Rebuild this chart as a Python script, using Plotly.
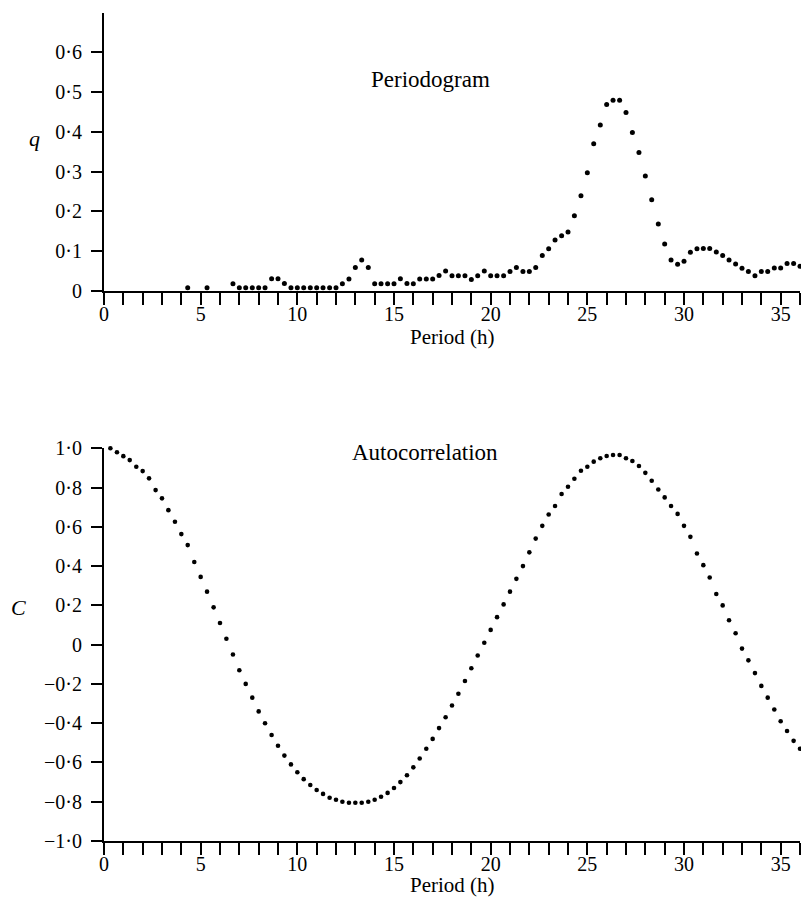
import plotly.graph_objects as go

# ---------------- data ----------------
# Periodogram: periods sampled every 20 min (1/3 h) from 4.33 h to 36 h
period_top = [round(k / 3, 2) for k in range(13, 109)]
q_values = [
    0.008, None, None, 0.008, None, None, None, 0.018, 0.008, 0.008,   # 4.33 - 7.33
    0.008, 0.008, 0.008, 0.031, 0.031, 0.019, 0.008, 0.008, 0.008, 0.008,  # 7.67 - 10.67
    0.008, 0.008, 0.008, 0.008, 0.018, 0.030, 0.059, 0.078, 0.059, 0.018,  # 11.0 - 14.0
    0.018, 0.018, 0.018, 0.031, 0.019, 0.018, 0.030, 0.030, 0.030, 0.039,  # 14.33 - 17.33
    0.050, 0.038, 0.038, 0.038, 0.029, 0.038, 0.050, 0.038, 0.038, 0.038,  # 17.67 - 20.67
    0.049, 0.059, 0.049, 0.049, 0.059, 0.089, 0.106, 0.128, 0.139, 0.148,  # 21.0 - 24.0
    0.189, 0.239, 0.297, 0.370, 0.417, 0.468, 0.479, 0.479, 0.448, 0.398,  # 24.33 - 27.33
    0.348, 0.289, 0.229, 0.168, 0.118, 0.078, 0.067, 0.075, 0.097, 0.106,  # 27.67 - 30.67
    0.107, 0.107, 0.098, 0.089, 0.078, 0.068, 0.057, 0.049, 0.038, 0.049,  # 31.0 - 34.0
    0.049, 0.058, 0.058, 0.069, 0.069, 0.062,                              # 34.33 - 36.0
]

# Autocorrelation: lags every 20 min (1/3 h) from 0.33 h to 36 h
period_bottom = [round(k / 3, 2) for k in range(1, 109)]
c_values = [
    1.00, 0.98, 0.96, 0.94, 0.906, 0.884, 0.847, 0.787, 0.745, 0.685,      # 0.33 - 3.33
    0.626, 0.563, 0.507, 0.421, 0.345, 0.27, 0.19, 0.11, 0.03, -0.05,      # 3.67 - 6.67
    -0.13, -0.20, -0.27, -0.34, -0.40, -0.46, -0.515, -0.565, -0.61, -0.65,  # 7.0 - 10.0
    -0.685, -0.715, -0.74, -0.76, -0.78, -0.79, -0.80, -0.805, -0.805, -0.805,  # 10.33 - 13.33
    -0.80, -0.79, -0.775, -0.755, -0.73, -0.70, -0.665, -0.625, -0.58, -0.53,  # 13.67 - 16.67
    -0.48, -0.425, -0.37, -0.31, -0.25, -0.185, -0.12, -0.055, 0.01, 0.075,  # 17.0 - 20.0
    0.14, 0.205, 0.27, 0.335, 0.40, 0.47, 0.54, 0.605, 0.663, 0.706,        # 20.33 - 23.33
    0.767, 0.804, 0.845, 0.886, 0.906, 0.932, 0.949, 0.961, 0.966, 0.966,  # 23.67 - 26.67
    0.949, 0.935, 0.91, 0.875, 0.835, 0.79, 0.75, 0.706, 0.666, 0.605,     # 27.0 - 30.0
    0.549, 0.464, 0.405, 0.342, 0.258, 0.20, 0.124, 0.058, -0.02, -0.08,   # 30.33 - 33.33
    -0.145, -0.21, -0.27, -0.33, -0.39, -0.44, -0.49, -0.53,               # 33.67 - 36.0
]

x_tick_vals = list(range(0, 37))
x_tick_text = [str(v) if v % 5 == 0 else "" for v in x_tick_vals]

q_tick_vals = [0, 0.1, 0.2, 0.3, 0.4, 0.5, 0.6]
q_tick_text = ["0", "0·1", "0·2", "0·3", "0·4", "0·5", "0·6"]

c_tick_vals = [1.0, 0.8, 0.6, 0.4, 0.2, 0, -0.2, -0.4, -0.6, -0.8, -1.0]
c_tick_text = ["1·0", "0·8", "0·6", "0·4", "0·2", "0", "−0·2", "−0·4", "−0·6", "−0·8", "−1·0"]

# ---------------- figure ----------------
FONT = "Liberation Serif, Times New Roman, serif"
W, H = 801, 913
ML, MR, MT, MB = 104, 1, 13, 72

fig = go.Figure()
fig.add_trace(go.Scatter(
    x=period_top, y=q_values, mode="markers", xaxis="x", yaxis="y",
    marker=dict(color="black", size=5), cliponaxis=False, showlegend=False,
))
fig.add_trace(go.Scatter(
    x=period_bottom, y=c_values, mode="markers", xaxis="x2", yaxis="y2",
    marker=dict(color="black", size=4.6), cliponaxis=False, showlegend=False,
))

plot_h = H - MT - MB
top_dom0 = (H - MB - 291) / plot_h
bot_dom1 = (H - MB - 448.3) / plot_h


def paper_y(py):
    return (H - MB - py) / plot_h


def paper_x(px):
    return (px - ML) / (W - ML - MR)


axis_common = dict(
    showgrid=False, zeroline=False, showline=True, linecolor="black", linewidth=2,
    ticks="outside", tickcolor="black", tickwidth=2,
    tickfont=dict(family=FONT, size=20, color="black"),
)

fig.update_layout(
    width=W, height=H,
    margin=dict(l=ML, r=MR, t=MT, b=MB),
    paper_bgcolor="white", plot_bgcolor="white",
    font=dict(family=FONT, color="black"),
    xaxis=dict(axis_common, range=[0, 36], tickvals=x_tick_vals, ticktext=x_tick_text,
               ticklen=12, ticklabelstandoff=-8, anchor="y", domain=[0, 1]),
    yaxis=dict(axis_common, range=[0, 0.698], tickvals=q_tick_vals, ticktext=q_tick_text,
               ticklen=11, ticklabelstandoff=5, anchor="x", domain=[top_dom0, 1]),
    xaxis2=dict(axis_common, range=[0, 36], tickvals=x_tick_vals, ticktext=x_tick_text,
                ticklen=12, ticklabelstandoff=-8, anchor="y2", domain=[0, 1]),
    yaxis2=dict(axis_common, range=[-1.0, 1.0], tickvals=c_tick_vals, ticktext=c_tick_text,
                ticklen=11, ticklabelstandoff=5, anchor="x2", domain=[0, bot_dom1]),
)

title_font = dict(family=FONT, size=23, color="black")
label_font = dict(family=FONT, size=21, color="black")
fig.add_annotation(x=16.9, y=0.53, xref="x", yref="y", text="Periodogram",
                   showarrow=False, font=title_font)
fig.add_annotation(x=16.6, y=0.977, xref="x2", yref="y2", text="Autocorrelation",
                   showarrow=False, font=title_font)
fig.add_annotation(x=paper_x(452), y=paper_y(337), xref="paper", yref="paper",
                   text="Period (h)", showarrow=False, font=label_font)
fig.add_annotation(x=paper_x(452), y=paper_y(899), xref="paper", yref="paper",
                   text="Period (h)", showarrow=False, font=label_font)
fig.add_annotation(x=paper_x(27), y=paper_y(124), xref="paper", yref="paper",
                   text="<i>q</i>", showarrow=False,
                   font=dict(family=FONT, size=22, color="black"))
fig.add_annotation(x=paper_x(9), y=paper_y(622), xref="paper", yref="paper",
                   text="<i>C</i>", showarrow=False,
                   font=dict(family=FONT, size=22, color="black"))

fig.write_html(
    "out.html",
    config={"displayModeBar": False},
    post_script="document.body.style.margin='0';document.body.style.padding='0';"
                "document.body.style.overflow='hidden';",
)
